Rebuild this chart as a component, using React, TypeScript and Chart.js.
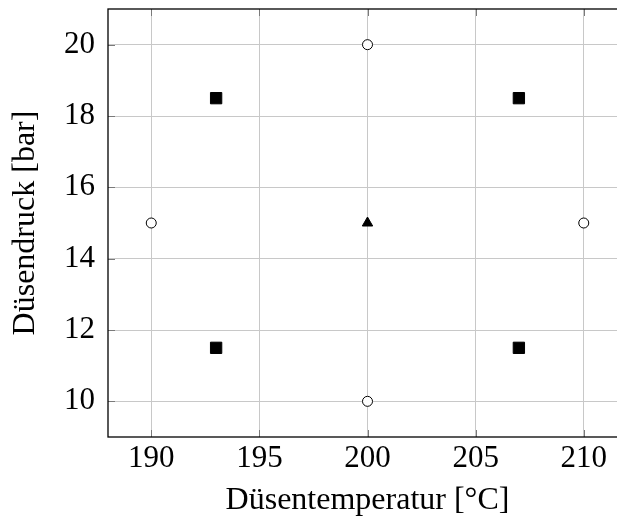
import React, { useEffect, useRef } from "react";
import { Chart, registerables } from "chart.js";

Chart.register(...registerables);

const xTicks = [190, 195, 200, 205, 210];
const yTicks = [10, 12, 14, 16, 18, 20];
const xRange = [188, 212];
const yRange = [9, 21];

const circlePoints = [
  { x: 190, y: 15 },
  { x: 210, y: 15 },
  { x: 200, y: 20 },
  { x: 200, y: 10 },
];
const squarePoints = [
  { x: 193, y: 18.5 },
  { x: 207, y: 18.5 },
  { x: 193, y: 11.5 },
  { x: 207, y: 11.5 },
];
const trianglePoints = [{ x: 200, y: 15 }];

const xTitle = "Düsentemperatur [°C]";
const yTitle = "Düsendruck [bar]";

const FONT = "'Liberation Serif', 'DejaVu Serif', serif";

const boxPlugin = {
  id: "boxPlugin",
  afterDatasetsDraw(chart: any) {
    const { ctx, chartArea } = chart;
    const { left, right, top, bottom } = chartArea;
    const xs = chart.scales.x;
    const ys = chart.scales.y;
    ctx.save();
    ctx.strokeStyle = "#7a7a7a";
    ctx.lineWidth = 1;
    const tl = 7;
    xTicks.forEach((v) => {
      const px = Math.round(xs.getPixelForValue(v)) + 0.5;
      ctx.beginPath();
      ctx.moveTo(px, bottom);
      ctx.lineTo(px, bottom - tl);
      ctx.moveTo(px, top);
      ctx.lineTo(px, top + tl);
      ctx.stroke();
    });
    yTicks.forEach((v) => {
      const py = Math.round(ys.getPixelForValue(v)) + 0.5;
      ctx.beginPath();
      ctx.moveTo(left, py);
      ctx.lineTo(left + tl, py);
      ctx.moveTo(right, py);
      ctx.lineTo(right - tl, py);
      ctx.stroke();
    });
    ctx.strokeStyle = "#000";
    ctx.lineWidth = 1.3;
    ctx.strokeRect(left, top, right - left, bottom - top);
    ctx.restore();
  },
};

export default function App() {
  const ref = useRef<HTMLCanvasElement>(null);
  useEffect(() => {
    document.body.style.overflow = "hidden";
    document.documentElement.style.overflow = "hidden";
    const canvas = ref.current!;
    const chart = new Chart(canvas, {
      type: "scatter",
      data: {
        datasets: [
          {
            data: circlePoints,
            pointStyle: "circle",
            pointRadius: 5,
            pointBackgroundColor: "#ffffff",
            pointBorderColor: "#000000",
            pointBorderWidth: 1,
          },
          {
            data: squarePoints,
            pointStyle: "rect",
            pointRadius: 8,
            pointBackgroundColor: "#000000",
            pointBorderColor: "#000000",
            pointBorderWidth: 1,
          },
          {
            data: trianglePoints,
            pointStyle: "triangle",
            pointRadius: 6,
            pointBackgroundColor: "#000000",
            pointBorderColor: "#000000",
            pointBorderWidth: 1,
          },
        ],
      },
      options: {
        animation: false,
        responsive: false,
        devicePixelRatio: 1,
        layout: { padding: { top: 6, right: 13, left: 0, bottom: 0 } },
        plugins: {
          legend: { display: false },
          tooltip: { enabled: false },
        },
        scales: {
          x: {
            type: "linear",
            min: xRange[0],
            max: xRange[1],
            afterBuildTicks: (s: any) => {
              s.ticks = xTicks.map((v) => ({ value: v }));
            },
            afterFit: (s: any) => {
              s.height = 83;
              s.paddingLeft = 0;
              s.paddingRight = 0;
            },
            grid: { color: "#c8c8c8", lineWidth: 1, drawTicks: false },
            border: { display: false },
            ticks: {
              color: "#000",
              padding: 3,
              font: { family: FONT, size: 31 },
              maxRotation: 0,
              callback: (v: any) => String(v),
            },
            title: {
              display: true,
              text: xTitle,
              color: "#000",
              font: { family: FONT, size: 32 },
              padding: { top: 4, bottom: 0 },
            },
          },
          y: {
            type: "linear",
            min: yRange[0],
            max: yRange[1],
            afterBuildTicks: (s: any) => {
              s.ticks = yTicks.map((v) => ({ value: v }));
            },
            afterFit: (s: any) => {
              s.width = 108;
              s.paddingTop = 0;
              s.paddingBottom = 0;
            },
            grid: { color: "#c8c8c8", lineWidth: 1, drawTicks: false },
            border: { display: false },
            ticks: {
              color: "#000",
              padding: 13,
              font: { family: FONT, size: 31 },
              callback: (v: any) => String(v),
            },
            title: {
              display: true,
              text: yTitle,
              color: "#000",
              font: { family: FONT, size: 32 },
              padding: { top: 6, bottom: 6 },
            },
          },
        },
      },
      plugins: [boxPlugin],
    } as any);
    return () => chart.destroy();
  }, []);
  return (
    <div style={{ position: "fixed", left: 0, top: 0, width: 640, height: 520 }}>
      <canvas ref={ref} width={640} height={520} style={{ width: 640, height: 520, display: "block" }} />
    </div>
  );
}
